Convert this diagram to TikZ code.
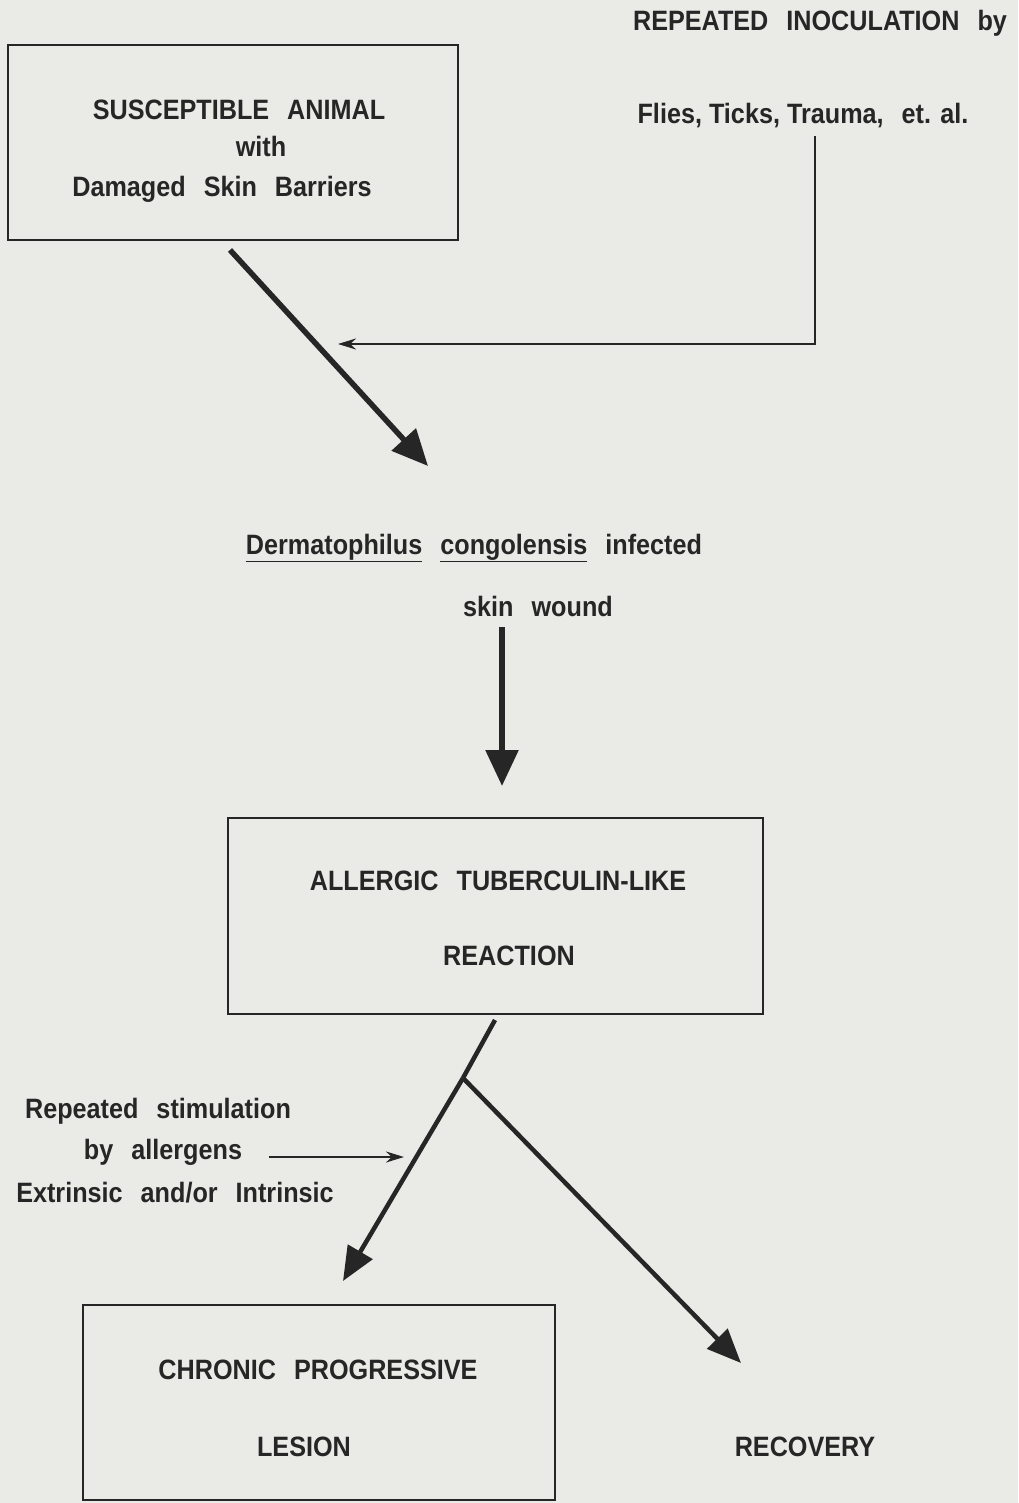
\documentclass[tikz,border=0pt]{standalone}
\usepackage{fontspec}
\setmainfont[FakeStretch=0.9]{Liberation Sans}
\usetikzlibrary{arrows.meta}
\definecolor{paper}{RGB}{234,234,231}
\definecolor{ink}{RGB}{38,38,38}
\tikzset{
  lbl/.style={font=\fontsize{28}{32}\selectfont\bfseries, text=ink, inner sep=0pt, anchor=base},
  boxnode/.style={draw=ink, line width=2.6pt, inner sep=0pt},
  thickarrow/.style={draw=ink, line width=5.5pt, -{Triangle[length=36pt,width=32pt]}},
  thinarrow/.style={draw=ink, line width=2.4pt, -{Stealth[length=18pt,width=11pt]}},
  branch/.style={draw=ink, line width=4.5pt},
  brancharrow/.style={draw=ink, line width=4.5pt, -{Triangle[length=34pt,width=28pt]}},
}
\newcommand{\wsp}{\hspace{18pt}}
\begin{document}
\begin{tikzpicture}[x=1pt,y=-1pt]
\fill[paper] (0,0) rectangle (1018,1503);
\useasboundingbox (0,0) rectangle (1018,1503);

% boxes
\node[boxnode, minimum width=450pt, minimum height=195pt] (box1) at (233,142.5) {};
\node[boxnode, minimum width=535pt, minimum height=196pt] (box2) at (495.5,916) {};
\node[boxnode, minimum width=472pt, minimum height=195pt] (box3) at (319,1402.5) {};

% texts
\node[lbl] (t1a) at (239,120) {SUSCEPTIBLE\wsp ANIMAL};
\node[lbl] (t1b) at (261,157) {with};
\node[lbl] (t1c) at (222,197) {Damaged\wsp Skin\wsp Barriers};

\node[lbl] (inoc) at (820,31) {REPEATED\wsp INOCULATION\wsp by};
\node[lbl] (flies) at (803,124) {Flies, Ticks, Trauma,\wsp et. al.};

\node[lbl] (derm) at (474,554) {\underline{Dermatophilus}\wsp \underline{congolensis}\wsp infected};
\node[lbl] (wound) at (538,616) {skin\wsp wound};

\node[lbl] (t2a) at (498,890) {ALLERGIC\wsp TUBERCULIN-LIKE};
\node[lbl] (t2b) at (509,965) {REACTION};

\node[lbl] (rep1) at (158,1118) {Repeated\wsp stimulation};
\node[lbl] (rep2) at (163,1159) {by\wsp allergens};
\node[lbl] (rep3) at (175,1202) {Extrinsic\wsp and/or\wsp Intrinsic};

\node[lbl] (t3a) at (318,1379) {CHRONIC\wsp PROGRESSIVE};
\node[lbl] (t3b) at (304,1456) {LESION};
\node[lbl] (recov) at (805,1456) {RECOVERY};

% connector coordinates
\coordinate (a1s) at (230,250);
\coordinate (a1e) at (428,466);
\coordinate (inS) at (815,136);
\coordinate (inE) at (338,344);
\coordinate (wS) at (502,627);
\coordinate (wE) at (502,786);
\coordinate (b2s) at (495,1020);
\coordinate (junc) at (463,1078);
\coordinate (lesE) at (343,1281);
\coordinate (recE) at (741,1363);
\coordinate (alS) at (269,1157);
\coordinate (alE) at (404,1157);

% connectors
\draw[thickarrow] (a1s) -- (a1e);
\draw[thinarrow] (inS) |- (inE);
\draw[thickarrow] (wS) -- (wE);
\draw[branch] (b2s) -- (junc);
\draw[brancharrow] (junc) -- (lesE);
\draw[brancharrow] (junc) -- (recE);
\draw[thinarrow] (alS) -- (alE);
\end{tikzpicture}
\end{document}
